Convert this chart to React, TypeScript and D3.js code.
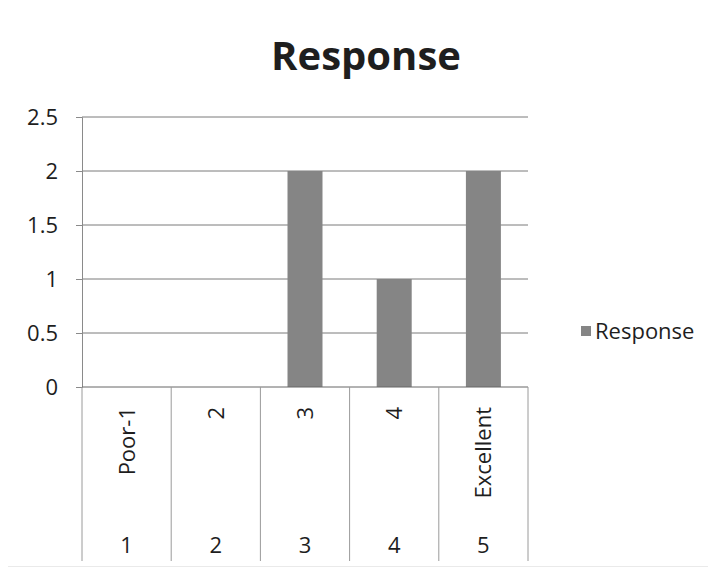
import { useEffect, useRef } from 'react';
import * as d3 from 'd3';

const categories = ['1', '2', '3', '4', '5'];
const topLabels = ['Poor-1', '2', '3', '4', 'Excellent'];
const values = [0, 0, 2, 1, 2];
const yTicks = [0, 0.5, 1, 1.5, 2, 2.5];
const seriesName = 'Response';

const W = 716;
const H = 575;
const plot = { left: 82, right: 528, top: 117, bottom: 387 };
const FONT = 'Open Sans, Noto Sans, sans-serif';

const App = () => {
  const ref = useRef<SVGSVGElement>(null);

  useEffect(() => {
    const svg = d3.select(ref.current);
    svg.selectAll('*').remove();

    const x = d3.scaleBand().domain(categories).range([plot.left, plot.right]).paddingInner(0).paddingOuter(0);
    const y = d3.scaleLinear().domain([0, 2.5]).range([plot.bottom, plot.top]);

    // chart border
    svg
      .append('rect')
      .attr('x', 6)
      .attr('y', 4)
      .attr('width', W - 12)
      .attr('height', 563)
      .attr('fill', 'white')
      .attr('stroke', '#d4d4d4');

    svg
      .append('text')
      .attr('x', 366)
      .attr('y', 70)
      .attr('text-anchor', 'middle')
      .style('font-family', FONT)
      .style('font-weight', 'bold')
      .style('font-size', '40px')
      .attr('fill', '#1e1e1e')
      .text('Response');

    // gridlines
    svg
      .append('g')
      .selectAll('line')
      .data(yTicks.filter((t) => t > 0))
      .enter()
      .append('line')
      .attr('x1', plot.left)
      .attr('x2', plot.right)
      .attr('y1', (d) => y(d))
      .attr('y2', (d) => y(d))
      .attr('stroke', '#7a7a7a')
      .attr('stroke-width', 1);

    // y axis
    const yAxis = d3
      .axisLeft(y)
      .tickValues(yTicks)
      .tickFormat((d: any) => String(d))
      .tickSize(6)
      .tickPadding(18);
    const gy = svg.append('g').attr('transform', `translate(${plot.left},0)`).call(yAxis);
    gy.select('.domain').attr('stroke', '#8a8a8a');
    gy.selectAll('line').attr('stroke', '#8a8a8a');
    gy.selectAll('text')
      .style('font-family', FONT)
      .style('font-size', '22px')
      .attr('fill', '#1e1e1e');

    // bars
    const barW = 35;
    svg
      .append('g')
      .selectAll('rect')
      .data(values)
      .enter()
      .append('rect')
      .attr('x', (_d, i) => (x(categories[i]) as number) + x.bandwidth() / 2 - barW / 2)
      .attr('y', (d) => y(d))
      .attr('width', barW)
      .attr('height', (d) => y(0) - y(d))
      .attr('fill', '#858585');

    // baseline
    svg
      .append('line')
      .attr('x1', plot.left)
      .attr('x2', plot.right)
      .attr('y1', y(0))
      .attr('y2', y(0))
      .attr('stroke', '#666');

    // multi-level category axis
    const edges = categories.map((c) => x(c) as number).concat([plot.right]);
    svg
      .append('g')
      .selectAll('line')
      .data(edges)
      .enter()
      .append('line')
      .attr('x1', (d) => d)
      .attr('x2', (d) => d)
      .attr('y1', plot.bottom)
      .attr('y2', 561)
      .attr('stroke', '#9a9a9a');

    svg
      .append('g')
      .selectAll('text')
      .data(topLabels)
      .enter()
      .append('text')
      .attr('transform', (_d, i) => {
        const cx = (x(categories[i]) as number) + x.bandwidth() / 2;
        return `translate(${cx + 8},407) rotate(-90)`;
      })
      .attr('text-anchor', 'end')
      .style('font-family', FONT)
      .style('font-size', '22px')
      .attr('fill', '#1e1e1e')
      .text((d) => d);

    svg
      .append('g')
      .selectAll('text')
      .data(categories)
      .enter()
      .append('text')
      .attr('x', (d) => (x(d) as number) + x.bandwidth() / 2)
      .attr('y', 553)
      .attr('text-anchor', 'middle')
      .style('font-family', FONT)
      .style('font-size', '22px')
      .attr('fill', '#1e1e1e')
      .text((d) => d);

    // legend
    const lg = svg.append('g').attr('transform', 'translate(586,331)');
    lg.append('rect').attr('x', -5).attr('y', -5).attr('width', 10).attr('height', 10).attr('fill', '#858585');
    lg.append('text')
      .attr('x', 9)
      .attr('y', 8)
      .style('font-family', FONT)
      .style('font-size', '22px')
      .attr('fill', '#1e1e1e')
      .text(seriesName);
  }, []);

  return <svg ref={ref} width={W} height={H} style={{ display: 'block', margin: '-8px' }} />;
};

export default App;
